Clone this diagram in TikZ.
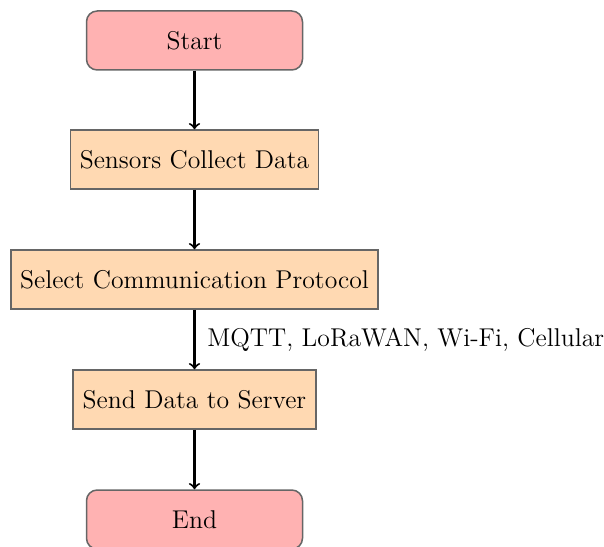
\documentclass[12pt,tikz,border=0pt]{standalone}
\usetikzlibrary{arrows}
\begin{document}
\begin{tikzpicture}[x=0.4666pt, y=-0.4666pt,
  startstop/.style={rectangle, rounded corners=5pt, draw=black!60, line width=0.7pt,
    fill=red!30, minimum width=216*0.4666pt, minimum height=59*0.4666pt, inner sep=0pt},
  process/.style={rectangle, draw=black!60, line width=0.7pt, fill=orange!30,
    minimum height=59*0.4666pt, inner sep=0pt},
  flow/.style={->, >=to, line width=0.95pt}]
  \useasboundingbox (0,0) rectangle (604,546);
  \node[startstop] (start) at (194.5,40.5) {Start};
  \node[process, minimum width=248*0.4666pt] (collect) at (194.5,159.5) {Sensors Collect Data};
  \node[process, minimum width=367*0.4666pt] (select) at (194.5,279.5) {Select Communication Protocol};
  \node[process, minimum width=243*0.4666pt] (send) at (194.5,399.5) {Send Data to Server};
  \node[startstop] (end) at (194.5,519.5) {End};
  \draw[flow] (start) -- (collect);
  \draw[flow] (collect) -- (select);
  \draw[flow] (select) -- node[right, inner sep=5.5pt] (proto) {MQTT, LoRaWAN, Wi-Fi, Cellular} (send);
  \draw[flow] (send) -- (end);
\end{tikzpicture}
\end{document}
